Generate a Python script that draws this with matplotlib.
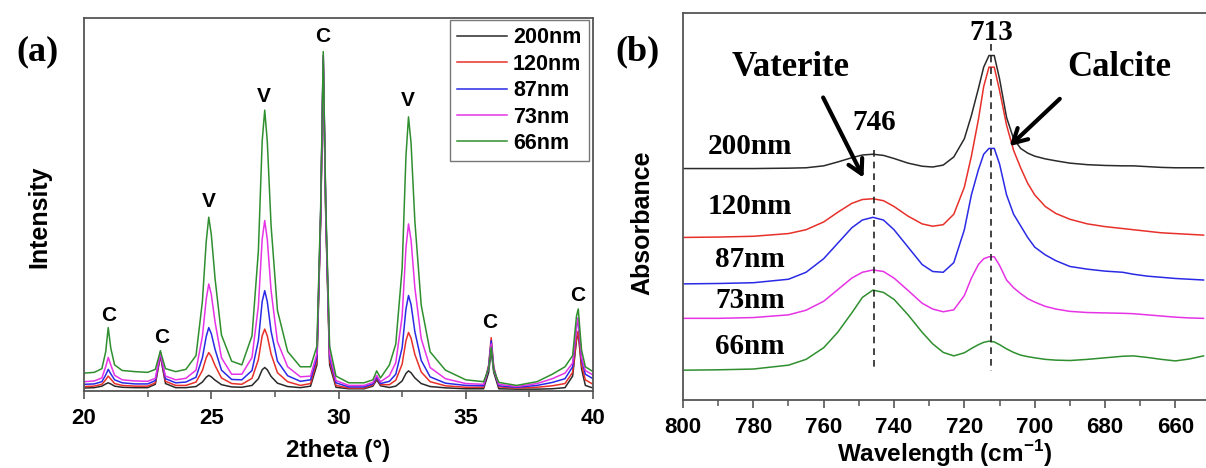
import numpy as np
import matplotlib
matplotlib.use('Agg')
import matplotlib.pyplot as plt
from matplotlib.ticker import MultipleLocator

plt.rcParams['font.family'] = ['Liberation Sans', 'DejaVu Sans']
plt.rcParams['mathtext.fontset'] = 'custom'
plt.rcParams['mathtext.rm'] = 'Liberation Sans:bold'
plt.rcParams['mathtext.bf'] = 'Liberation Sans:bold'

# ---- panel (a): XRD ----
two_theta = [20.0, 20.4, 20.7, 20.85, 20.95, 21.05, 21.2, 21.5, 22.0, 22.5,
             22.8, 22.95, 23.0, 23.05, 23.2, 23.6, 24.0, 24.4, 24.65, 24.8,
             24.9, 25.0, 25.15, 25.4, 25.8, 26.2, 26.6, 26.85, 27.0, 27.1,
             27.2, 27.35, 27.6, 28.0, 28.5, 28.9, 29.15, 29.3, 29.4, 29.5,
             29.65, 29.9, 30.4, 31.0, 31.35, 31.5, 31.65, 32.0, 32.25, 32.5,
             32.65, 32.75, 32.85, 33.0, 33.25, 33.6, 34.2, 35.0, 35.7, 35.9,
             36.0, 36.1, 36.3, 37.0, 37.8, 38.4, 38.9, 39.2, 39.35, 39.42,
             39.55, 39.7, 40.0]

xrd_200 = [0.8, 0.9, 1.3, 1.9, 2.2, 1.9, 1.3, 1.0, 0.9, 0.9,
           1.8, 7.5, 9.8, 7.5, 2.0, 0.9, 0.9, 1.2, 2.4, 3.7,
           4.2, 3.8, 2.9, 1.7, 1.1, 1.0, 1.5, 3.3, 5.7, 6.3,
           5.7, 3.9, 2.1, 1.2, 0.9, 1.3, 7.0, 46.0, 88.0, 46.0,
           7.0, 1.0, 0.6, 0.6, 1.3, 3.0, 1.4, 0.95, 1.3, 2.7,
           4.7, 5.4, 4.9, 3.5, 2.0, 1.2, 0.85, 0.6, 0.6, 5.0,
           10.8, 5.0, 0.6, 0.5, 0.5, 0.6, 0.9, 4.0, 13.5, 15.7,
           6.0, 1.5, 0.8]
xrd_120 = [1.2, 1.3, 1.8, 3.0, 4.0, 3.2, 2.0, 1.5, 1.3, 1.3,
           2.2, 7.8, 10.0, 7.8, 2.6, 1.5, 1.5, 2.4, 5.5, 8.9,
           10.3, 9.3, 6.8, 3.5, 2.0, 1.8, 3.4, 8.4, 14.8, 16.6,
           14.8, 9.9, 4.9, 2.5, 1.5, 2.0, 8.0, 47.0, 89.0, 47.0,
           8.0, 1.5, 0.8, 0.8, 1.6, 3.5, 1.7, 1.7, 2.9, 7.2,
           13.5, 15.7, 14.2, 9.8, 5.1, 2.5, 1.4, 1.0, 1.0, 7.0,
           14.3, 6.5, 1.1, 0.8, 1.0, 1.4, 2.0, 5.0, 14.0, 16.1,
           7.0, 3.0, 1.8]
xrd_87 = [1.8, 1.9, 2.5, 4.3, 5.8, 4.6, 3.0, 2.2, 1.9, 1.9,
          2.8, 8.2, 10.3, 8.2, 3.3, 2.2, 2.4, 3.7, 8.9, 14.6,
          17.0, 15.4, 11.1, 5.6, 3.1, 3.0, 5.5, 13.5, 24.0, 26.9,
          24.0, 16.0, 8.0, 4.1, 2.6, 3.0, 9.0, 48.0, 90.0, 48.0,
          9.0, 2.2, 1.1, 1.1, 1.9, 3.8, 2.0, 2.6, 4.5, 11.6,
          22.0, 25.6, 23.2, 15.9, 8.2, 3.8, 2.1, 1.5, 1.4, 6.5,
          13.5, 6.0, 1.4, 1.0, 1.5, 2.3, 3.3, 6.5, 17.0, 19.5,
          8.5, 4.5, 3.3]
xrd_73 = [2.5, 2.7, 3.5, 6.5, 9.0, 7.0, 4.2, 3.0, 2.7, 2.6,
          3.4, 8.5, 10.5, 8.5, 4.0, 3.0, 3.4, 5.6, 14.6, 24.6,
          28.7, 25.9, 18.4, 8.9, 4.5, 4.5, 9.0, 22.8, 40.7, 45.7,
          40.7, 26.9, 13.2, 6.5, 3.8, 4.0, 10.0, 48.0, 90.0, 48.0,
          10.0, 2.8, 1.5, 1.5, 2.3, 4.2, 2.5, 4.1, 7.6, 20.0,
          38.4, 44.8, 40.5, 27.7, 14.0, 6.3, 3.3, 2.0, 1.8, 6.0,
          12.6, 5.5, 1.8, 1.2, 2.0, 3.3, 4.8, 7.5, 17.0, 19.7,
          9.0, 5.5, 4.3]
xrd_66 = [4.8, 5.0, 6.0, 10.5, 17.0, 11.5, 7.0, 5.5, 5.2, 5.0,
          5.8, 9.5, 10.8, 9.5, 6.0, 5.2, 5.8, 9.5, 24.0, 40.0,
          46.6, 42.0, 30.0, 15.0, 8.0, 7.0, 14.8, 37.5, 67.0, 75.3,
          67.0, 44.3, 21.6, 10.6, 6.5, 6.5, 12.0, 50.0, 91.0, 50.0,
          12.0, 4.0, 2.2, 2.2, 3.0, 5.4, 3.5, 7.0, 12.6, 32.9,
          63.0, 73.5, 66.5, 45.5, 23.0, 10.5, 5.6, 3.0, 2.5, 6.0,
          11.7, 5.5, 2.3, 1.5, 2.5, 4.5, 6.5, 9.5, 20.0, 22.0,
          11.0, 6.5, 5.2]

peak_pos = [20.95, 23.05, 24.9, 27.07, 29.37, 32.73, 35.95, 39.4]
peak_tag = ['C', 'C', 'V', 'V', 'C', 'V', 'C', 'C']
peak_tag_y = [20.2, 14.3, 50.7, 78.9, 95.1, 78.0, 18.4, 25.6]

# ---- panel (b): FTIR ----
wavenumber = [800, 790, 780, 770, 765, 760, 756, 752, 749, 746,
              743, 740, 736, 732, 729, 726, 723, 720, 718, 716,
              714.5, 713, 711.5, 710, 708, 706, 704, 702, 700, 697,
              694, 690, 685, 680, 675, 672, 668, 664, 660, 656, 652]

ir_200 = [59.8, 59.8, 59.8, 59.9, 60.0, 60.5, 61.5, 62.6, 63.3, 63.5,
          63.2, 62.4, 61.2, 60.4, 60.2, 60.7, 62.8, 67.5, 73.5, 80.5,
          86.0, 89.0, 89.0, 83.0, 73.0, 67.5, 65.0, 63.8, 63.0, 62.3,
          61.8, 61.2, 60.8, 60.6, 60.5, 60.5, 60.3, 60.1, 60.0, 60.0, 60.0]
ir_120 = [42.0, 42.1, 42.3, 43.0, 44.0, 46.0, 48.5, 50.8, 51.8, 52.0,
          51.5, 50.0, 47.5, 45.5, 44.9, 45.3, 48.0, 55.0, 63.0, 72.5,
          81.0, 86.0, 86.0, 80.0, 71.0, 64.5, 60.0, 56.0, 53.0, 50.0,
          48.2, 46.7, 45.5, 44.8, 44.3, 44.0, 43.6, 43.2, 43.0, 42.8, 42.6]
ir_87 = [30.0, 30.1, 30.3, 31.2, 33.0, 36.5, 40.5, 44.5, 46.5, 47.2,
         46.5, 44.0, 39.5, 35.0, 33.2, 33.0, 35.5, 44.0, 53.0, 59.5,
         63.5, 65.0, 65.0, 61.0, 53.0, 48.0, 45.0, 42.0, 39.5, 37.5,
         36.0, 34.5, 33.8, 33.3, 33.0, 32.5, 32.0, 31.7, 31.4, 31.2, 31.0]
ir_73 = [21.1, 21.1, 21.3, 22.0, 23.2, 25.5, 28.5, 31.5, 33.0, 33.6,
         33.2, 31.5, 28.3, 25.0, 23.5, 22.8, 23.3, 27.0, 31.5, 35.0,
         36.5, 37.0, 37.0, 34.8, 31.0, 29.0, 27.5, 26.2, 25.3, 24.2,
         23.5, 22.9, 22.6, 22.5, 22.4, 22.3, 22.0, 21.7, 21.4, 21.2, 21.1]
ir_66 = [7.7, 7.8, 8.0, 9.0, 10.5, 13.5, 17.5, 22.5, 26.5, 28.4,
         27.8, 26.0, 22.0, 17.5, 14.5, 12.3, 11.4, 12.2, 13.3, 14.3,
         14.9, 15.2, 15.0, 14.3, 13.2, 12.3, 11.6, 11.2, 10.9, 10.5,
         10.3, 10.2, 10.5, 10.9, 11.3, 11.4, 11.0, 10.5, 10.1, 10.6, 11.4]

sizes = ['200nm', '120nm', '87nm', '73nm', '66nm']
size_label_y = [65.4, 49.9, 36.4, 25.6, 13.7]
colors = ['#2a2a2a', '#e8302a', '#2a2ae6', '#e633e6', '#2f8f2f']


def style_axes(ax):
    for s in ax.spines.values():
        s.set_color('#555555')
        s.set_linewidth(1.3)
    ax.set_yticks([])
    ax.tick_params(axis='x', which='major', direction='out', length=6, width=1.2,
                   color='#555555', labelsize=16, pad=6)
    ax.tick_params(axis='x', which='minor', direction='out', length=4, width=1.1,
                   color='#555555')
    for t in ax.get_xticklabels():
        t.set_fontweight('bold')


def main():
    fig = plt.figure(figsize=(12.06, 4.68), dpi=100)

    # (a)
    ax = fig.add_axes([0.0697, 0.1645, 0.422, 0.797])
    xrd = [xrd_200, xrd_120, xrd_87, xrd_73, xrd_66]
    for y, c, lab in zip(xrd, colors, sizes):
        ax.plot(two_theta, y, color=c, lw=1.1, label=lab)
    ax.set_xlim(20, 40)
    ax.set_ylim(0, 100)
    ax.xaxis.set_major_locator(MultipleLocator(5))
    ax.xaxis.set_minor_locator(MultipleLocator(2.5))
    style_axes(ax)
    for p, t, ty in zip(peak_pos, peak_tag, peak_tag_y):
        ax.text(p, ty, t, ha='center', va='center', fontsize=15, fontweight='bold')
    ax.set_xlabel('2theta (°)', fontsize=17.5, fontweight='bold')
    ax.xaxis.set_label_coords(0.5, -0.128)
    ax.set_ylabel('Intensity', fontsize=18, fontweight='bold')
    ax.yaxis.set_label_coords(-0.065, 0.466)
    leg = ax.legend(loc='upper right', bbox_to_anchor=(0.992, 0.995), borderaxespad=0,
                    prop={'weight': 'bold', 'size': 15.5}, handlelength=2.3,
                    labelspacing=0.25, fancybox=False, framealpha=1,
                    borderpad=0.35, handletextpad=0.3)
    leg.get_frame().set_edgecolor('#777777')
    leg.get_frame().set_linewidth(1.0)

    # (b)
    axb = fig.add_axes([0.5663, 0.1453, 0.4337, 0.827])
    ir = [ir_200, ir_120, ir_87, ir_73, ir_66]
    for y, c in zip(ir, colors):
        axb.plot(wavenumber, y, color=c, lw=1.1)
    axb.set_xlim(800, 651.3)
    axb.set_ylim(0, 100)
    axb.xaxis.set_major_locator(MultipleLocator(20))
    axb.xaxis.set_minor_locator(MultipleLocator(10))
    style_axes(axb)
    axb.spines['right'].set_visible(False)
    axb.set_xlabel('Wavelength (cm$^{-1}$)', fontsize=17.5, fontweight='bold')
    axb.xaxis.set_label_coords(0.5, -0.098)
    axb.set_ylabel('Absorbance', fontsize=18, fontweight='bold')
    axb.yaxis.set_label_coords(-0.055, 0.457)

    serif = ['Liberation Serif', 'DejaVu Serif']
    axb.plot([745.6, 745.6], [64.6, 7.4], color='#222222', lw=1.2, ls=(0, (4, 3)))
    axb.plot([712.3, 712.3], [92.0, 7.4], color='#222222', lw=1.2, ls=(0, (4, 3)))
    for lab, ty in zip(sizes, size_label_y):
        axb.text(781, ty, lab, ha='center', va='center', fontsize=21,
                 fontweight='bold', family=serif)
    axb.text(769.3, 86.0, 'Vaterite', ha='center', va='center', fontsize=25,
             fontweight='bold', family=serif)
    axb.text(675.9, 86.0, 'Calcite', ha='center', va='center', fontsize=25,
             fontweight='bold', family=serif)
    axb.text(745.7, 71.6, '746', ha='center', va='center', fontsize=21,
             fontweight='bold', family=serif)
    axb.text(712.4, 95.0, '713', ha='center', va='center', fontsize=21,
             fontweight='bold', family=serif)
    arrow = dict(arrowstyle='->,head_length=1.0,head_width=0.55', color='black', lw=3.0)
    axb.annotate('', xy=(748.3, 56.8), xytext=(760.5, 78.8), arrowprops=arrow)
    axb.annotate('', xy=(707.7, 65.1), xytext=(692.3, 78.3), arrowprops=arrow)

    fig.text(0.0307, 0.889, '(a)', ha='center', va='center', fontsize=26,
             fontweight='bold', family=serif)
    fig.text(0.529, 0.889, '(b)', ha='center', va='center', fontsize=26,
             fontweight='bold', family=serif)

    fig.savefig('out.png', dpi=100)


if __name__ == '__main__':
    main()
